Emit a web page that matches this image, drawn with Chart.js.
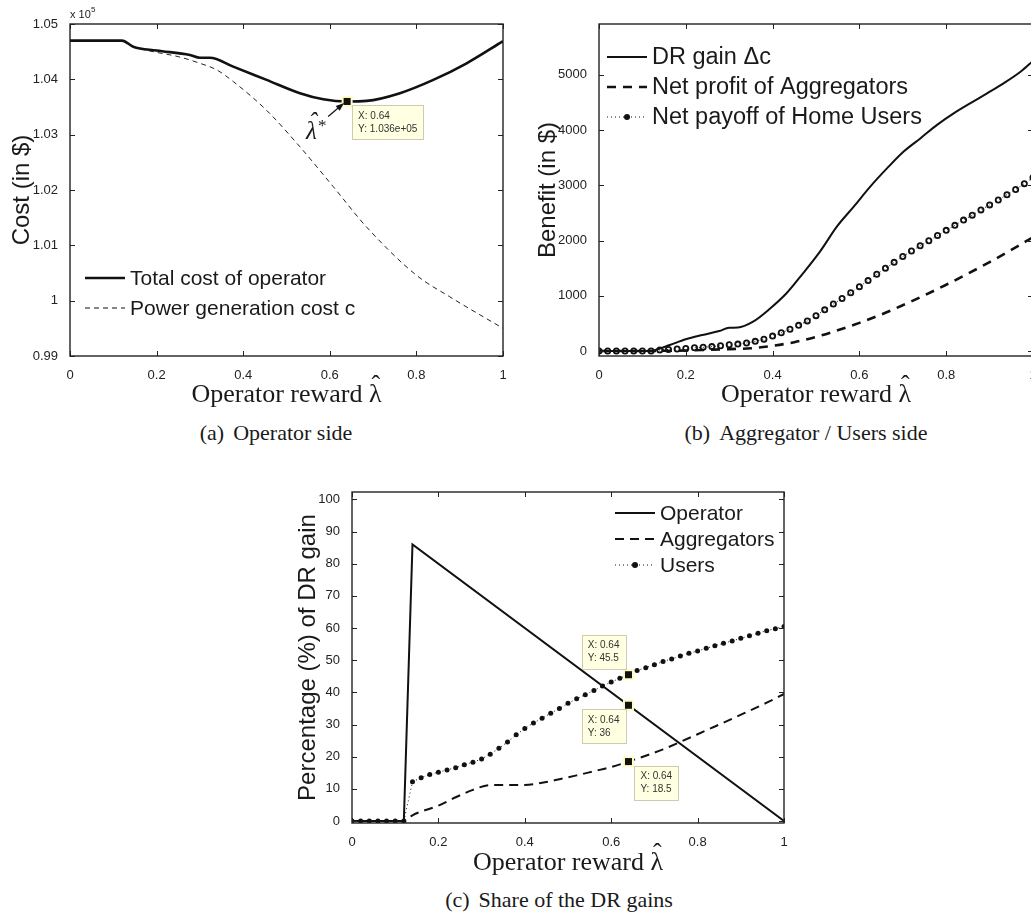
<!DOCTYPE html>
<html>
<head>
<meta charset="utf-8">
<script src="https://cdn.jsdelivr.net/npm/chart.js@4.4.0/dist/chart.umd.min.js"></script>
<style>
  html, body { margin: 0; padding: 0; background: #fff; overflow: hidden; width: 1031px; height: 918px; }
  .box { position: absolute; }
  .cap { position: absolute; font-family: "Liberation Serif", serif; font-size: 22px; color: #1a1a1a;
         white-space: nowrap; transform: translate(-50%, -50%); }
  .cap span { margin-right: 9px; }
</style>
</head>
<body>
<div class="box" style="left:0;top:0"><canvas id="chartA" width="520" height="410"></canvas></div>
<div class="box" style="left:520px;top:0"><canvas id="chartB" width="530" height="410"></canvas></div>
<div class="box" style="left:260px;top:470px"><canvas id="chartC" width="540" height="410"></canvas></div>
<div class="cap" style="left:276px;top:433px"><span>(a)</span>Operator side</div>
<div class="cap" style="left:806px;top:433px"><span>(b)</span>Aggregator / Users side</div>
<div class="cap" style="left:559px;top:900px"><span>(c)</span>Share of the DR gains</div>
<script>
// x ticks shared by the three plots
const xTicks = [0, 0.2, 0.4, 0.6, 0.8, 1];
const xTickLabels = ['0', '0.2', '0.4', '0.6', '0.8', '1'];
const xTitleText = 'Operator reward ';
const lambdaSym = '\u03BB';

// operator reward grid used for the marker series
const lambdaGrid = [0, 0.02, 0.04, 0.06, 0.08, 0.10, 0.12, 0.14, 0.16, 0.18, 0.20, 0.22, 0.24, 0.26, 0.28,
  0.30, 0.32, 0.34, 0.36, 0.38, 0.40, 0.42, 0.44, 0.46, 0.48, 0.50, 0.52, 0.54, 0.56, 0.58, 0.60, 0.62,
  0.64, 0.66, 0.68, 0.70, 0.72, 0.74, 0.76, 0.78, 0.80, 0.82, 0.84, 0.86, 0.88, 0.90, 0.92, 0.94, 0.96,
  0.98, 1.00];

// (a) operator side, cost in units of 1e5 $
const totalCostX = [0, 0.12, 0.146, 0.2, 0.277, 0.3, 0.323, 0.377, 0.454, 0.531, 0.585, 0.64, 0.685, 0.762, 0.839, 0.916, 1];
const totalCostY = [1.047, 1.047, 1.0459, 1.0452, 1.0444, 1.0439, 1.0439, 1.0423, 1.0399, 1.0375, 1.0364, 1.0360, 1.0361, 1.0375, 1.0399, 1.0429, 1.0469];
const genCostX = [0, 0.12, 0.146, 0.192, 0.25, 0.3, 0.339, 0.377, 0.454, 0.531, 0.608, 0.685, 0.8, 0.877, 1];
const genCostY = [1.047, 1.047, 1.0459, 1.0450, 1.0441, 1.0429, 1.0417, 1.0396, 1.0344, 1.0278, 1.0206, 1.0133, 1.0046, 1.0007, 0.9950];
const yTicksA = [0.99, 1, 1.01, 1.02, 1.03, 1.04, 1.05];
const yTickLabelsA = ['0.99', '1', '1.01', '1.02', '1.03', '1.04', '1.05'];

// (b) aggregator / users side, benefit in $
const drGainX = [0, 0.12, 0.13, 0.163, 0.2, 0.238, 0.277, 0.3, 0.32, 0.355, 0.393, 0.432, 0.47, 0.51, 0.548, 0.587, 0.625, 0.664, 0.702, 0.741, 0.779, 0.818, 0.856, 0.895, 0.933, 0.972, 1];
const drGainY = [0, 0, 20, 109, 212, 290, 362, 422, 425, 531, 760, 1045, 1407, 1810, 2252, 2614, 2976, 3310, 3611, 3853, 4094, 4306, 4487, 4668, 4850, 5060, 5250];
const aggProfitX = [0, 0.12, 0.14, 0.2, 0.25, 0.3, 0.35, 0.4, 0.45, 0.5, 0.55, 0.6, 0.65, 0.7, 0.75, 0.8, 0.85, 0.9, 0.95, 1];
const aggProfitY = [0, 0, 3, 10, 22, 35, 50, 95, 160, 255, 375, 510, 660, 830, 1010, 1200, 1400, 1610, 1830, 2060];
const usersPayoff = [0, 0, 0, 0, 0, 0, 0, 20, 28, 38, 48, 58, 68, 80, 95, 115, 125, 145, 175, 215, 270,
  330, 395, 465, 545, 640, 745, 850, 950, 1055, 1165, 1275, 1390, 1500, 1605, 1710, 1810, 1905, 1995,
  2090, 2185, 2275, 2370, 2460, 2555, 2645, 2735, 2830, 2925, 3030, 3140];
const yTicksB = [0, 1000, 2000, 3000, 4000, 5000];

// (c) share of the DR gain in %
const opShareX = [0, 0.12, 0.14, 1];
const opShareY = [0, 0, 86, 0];
const aggShareX = [0, 0.12, 0.14, 0.2, 0.24, 0.28, 0.32, 0.36, 0.4, 0.44, 0.48, 0.52, 0.56, 0.6, 0.64, 0.68, 0.72, 0.76, 0.8, 0.84, 0.88, 0.92, 0.96, 1];
const aggShareY = [0, 0, 1.8, 4.8, 7.4, 9.7, 11.2, 11.2, 11.2, 11.9, 13, 14.2, 15.5, 16.8, 18.5, 20.3, 22.3, 24.6, 27, 29.4, 31.8, 34.3, 36.8, 39.5];
const usersShare = [0, 0, 0, 0, 0, 0, 0, 12.2, 13.5, 14.5, 15.2, 15.9, 16.6, 17.5, 18.3, 19.3, 20.8,
  22.6, 24.6, 26.8, 28.8, 30.5, 32.0, 33.5, 35.0, 36.6, 38.0, 39.3, 40.6, 42.0, 43.2, 44.4, 45.5, 46.8,
  47.7, 48.6, 49.6, 50.4, 51.3, 52.2, 52.9, 53.7, 54.5, 55.3, 56.0, 56.8, 57.6, 58.4, 59.2, 59.8, 60.5];
const yTicksC = [0, 10, 20, 30, 40, 50, 60, 70, 80, 90, 100];

const pts = (xs, ys) => xs.map((x, i) => ({ x: x, y: ys[i] }));

const INK = '#111';
const tickFont = { family: 'Liberation Sans', size: 13 };

// lambda with a hat drawn on top (the combining accent renders badly on canvas)
function drawLambdaHat(ctx, x, baseline, size, italic) {
  ctx.font = (italic ? 'italic ' : '') + size + 'px "Liberation Serif"';
  ctx.textAlign = 'left';
  ctx.textBaseline = 'alphabetic';
  const w = ctx.measureText(lambdaSym).width;
  ctx.fillText(lambdaSym, x, baseline);
  ctx.textAlign = 'center';
  ctx.fillText('\u02C6', x + w / 2 + (italic ? 1.5 : 0.5), baseline - size * 0.36);
  ctx.textAlign = 'left';
  return w;
}

// MATLAB style box with inner ticks, hand drawn legend and data tips
const matFrame = {
  id: 'matFrame',
  afterDatasetsDraw(chart, args, opts) {
    const { ctx, chartArea: a, scales: { x, y } } = chart;
    ctx.save();
    ctx.strokeStyle = '#222';
    ctx.lineWidth = 1.4;
    ctx.strokeRect(a.left, a.top, a.right - a.left, a.bottom - a.top);
    ctx.lineWidth = 1;
    ctx.beginPath();
    x.ticks.forEach(tk => {
      const p = Math.round(x.getPixelForValue(tk.value)) + 0.5;
      ctx.moveTo(p, a.bottom); ctx.lineTo(p, a.bottom - 5);
      ctx.moveTo(p, a.top); ctx.lineTo(p, a.top + 5);
    });
    y.ticks.forEach(tk => {
      const p = Math.round(y.getPixelForValue(tk.value)) + 0.5;
      ctx.moveTo(a.left, p); ctx.lineTo(a.left + 5, p);
      ctx.moveTo(a.right, p); ctx.lineTo(a.right - 5, p);
    });
    ctx.stroke();

    // x axis title with hatted lambda
    ctx.fillStyle = '#1a1a1a';
    ctx.font = '26px "Liberation Serif"';
    const w1 = ctx.measureText(xTitleText).width;
    const wl = ctx.measureText(lambdaSym).width;
    const x0 = (a.left + a.right) / 2 - (w1 + wl) / 2;
    const bl = a.bottom + opts.titleBaseline;
    ctx.textAlign = 'left';
    ctx.textBaseline = 'alphabetic';
    ctx.fillText(xTitleText, x0, bl);
    drawLambdaHat(ctx, x0 + w1, bl, 26, false);

    // legend
    const lg = opts.legend;
    lg.items.forEach((it, i) => {
      const yy = lg.y + i * lg.gap;
      ctx.strokeStyle = INK;
      ctx.lineWidth = it.width;
      ctx.setLineDash(it.dash || []);
      ctx.beginPath();
      ctx.moveTo(lg.x, yy); ctx.lineTo(lg.x + 40, yy);
      ctx.stroke();
      ctx.setLineDash([]);
      if (it.marker) {
        ctx.fillStyle = INK;
        ctx.beginPath();
        ctx.arc(lg.x + 20, yy, 3, 0, Math.PI * 2);
        ctx.fill();
      }
      ctx.fillStyle = '#1a1a1a';
      ctx.font = lg.size + 'px "Liberation Sans"';
      ctx.textBaseline = 'middle';
      ctx.textAlign = 'left';
      ctx.fillText(it.label, lg.x + 45, yy + 1);
    });

    // data tips
    (opts.tips || []).forEach(t => {
      const px = x.getPixelForValue(t.x), py = y.getPixelForValue(t.y);
      ctx.fillStyle = '#fffbc4';
      ctx.fillRect(px - 5.5, py - 5.5, 11, 11);
      ctx.fillStyle = '#111';
      ctx.fillRect(px - 3.5, py - 3.5, 7, 7);
      ctx.font = '10px "Liberation Sans"';
      const w = Math.max(...t.lines.map(s => ctx.measureText(s).width)) + 12;
      const bx = t.dx < 0 ? px + t.dx - w : px + t.dx, by = py + t.dy;
      ctx.fillStyle = '#ffffe1';
      ctx.fillRect(bx, by, w, 34);
      ctx.strokeStyle = '#cfcab0';
      ctx.lineWidth = 1;
      ctx.strokeRect(Math.round(bx) + 0.5, Math.round(by) + 0.5, Math.round(w), 34);
      ctx.fillStyle = '#333';
      ctx.textBaseline = 'middle';
      ctx.textAlign = 'left';
      t.lines.forEach((s, i) => ctx.fillText(s, bx + 6, by + 11 + i * 13));
    });

    if (opts.extra) opts.extra(chart);
    ctx.restore();
  }
};

function xScale(height) {
  return {
    type: 'linear', min: 0, max: 1,
    grid: { display: false }, border: { display: false },
    afterBuildTicks: s => { s.ticks = xTicks.map(v => ({ value: v })); },
    afterFit: s => { s.height = height; },
    ticks: { font: tickFont, color: '#222', padding: 4, maxRotation: 0, autoSkip: false,
             callback: (v, i) => xTickLabels[i] }
  };
}

function yScale(min, max, tickVals, labels, title, titlePad, width) {
  return {
    min: min, max: max,
    grid: { display: false }, border: { display: false },
    afterBuildTicks: s => { s.ticks = tickVals.map(v => ({ value: v })); },
    afterFit: s => { s.width = width; },
    ticks: { font: tickFont, color: '#222', padding: 4, autoSkip: false,
             callback: (v, i) => labels ? labels[i] : String(tickVals[i]) },
    title: { display: true, text: title, color: '#1a1a1a',
             font: { family: 'Liberation Sans', size: 24, lineHeight: 1 },
             padding: { top: titlePad, bottom: 0 } }
  };
}

const baseOpts = {
  responsive: false, animation: false, events: [],
  plugins: { legend: { display: false }, tooltip: { enabled: false } }
};

// (a) Operator side
new Chart(document.getElementById('chartA'), {
  type: 'line',
  data: {
    datasets: [
      { data: pts(totalCostX, totalCostY), borderColor: INK, borderWidth: 2.6, pointRadius: 0,
        cubicInterpolationMode: 'monotone' },
      { data: pts(genCostX, genCostY), borderColor: '#222', borderWidth: 1, borderDash: [5, 4],
        pointRadius: 0, cubicInterpolationMode: 'monotone' }
    ]
  },
  options: Object.assign({}, baseOpts, {
    layout: { padding: { left: 0, top: 24, right: 17, bottom: 0 } },
    scales: {
      x: xScale(54),
      y: yScale(0.99, 1.05, yTicksA, yTickLabelsA, 'Cost (in $)', 10, 70)
    },
    plugins: Object.assign({}, baseOpts.plugins, {
      matFrame: {
        titleBaseline: 46,
        legend: { x: 85, y: 278, gap: 30, size: 21, items: [
          { label: 'Total cost of operator', width: 2.6 },
          { label: 'Power generation cost c', width: 1, dash: [5, 4] }
        ] },
        tips: [{ x: 0.64, y: 1.036, lines: ['X: 0.64', 'Y: 1.036e+05'], dx: 5, dy: 4 }],
        extra: chart => {
          const { ctx, scales: { x, y }, chartArea: a } = chart;
          const px = x.getPixelForValue(0.64), py = y.getPixelForValue(1.036);
          // arrow towards the optimum
          ctx.strokeStyle = INK; ctx.fillStyle = INK; ctx.lineWidth = 1.2;
          ctx.beginPath(); ctx.moveTo(px - 19, py + 15); ctx.lineTo(px - 6, py + 4); ctx.stroke();
          const ang = Math.atan2(-11, 13);
          ctx.beginPath();
          ctx.moveTo(px - 3, py + 1.5);
          ctx.lineTo(px - 3 - 9 * Math.cos(ang - 0.35), py + 1.5 - 9 * Math.sin(ang - 0.35));
          ctx.lineTo(px - 3 - 9 * Math.cos(ang + 0.35), py + 1.5 - 9 * Math.sin(ang + 0.35));
          ctx.closePath(); ctx.fill();
          ctx.fillStyle = '#1a1a1a';
          const lw = drawLambdaHat(ctx, px - 41, py + 38, 25, true);
          ctx.font = '17px "Liberation Serif"';
          ctx.fillText('*', px - 41 + lw + 1, py + 30);
          // exponent label
          ctx.font = '11px "Liberation Sans"';
          ctx.fillStyle = '#222';
          ctx.textBaseline = 'alphabetic';
          ctx.fillText('x 10', a.left, a.top - 6);
          ctx.font = '8px "Liberation Sans"';
          ctx.fillText('5', a.left + 21, a.top - 12);
        }
      }
    })
  }),
  plugins: [matFrame]
});

// (b) Aggregator / Users side
new Chart(document.getElementById('chartB'), {
  type: 'line',
  data: {
    datasets: [
      { data: pts(drGainX, drGainY), borderColor: INK, borderWidth: 2, pointRadius: 0,
        cubicInterpolationMode: 'monotone' },
      { data: pts(aggProfitX, aggProfitY), borderColor: INK, borderWidth: 2.6, borderDash: [9, 7],
        pointRadius: 0, cubicInterpolationMode: 'monotone' },
      { data: pts(lambdaGrid, usersPayoff), borderColor: INK, borderWidth: 1, borderDash: [1, 3],
        pointRadius: 2.6, pointBorderWidth: 1.8, pointBorderColor: INK,
        pointBackgroundColor: 'rgba(0,0,0,0)' }
    ]
  },
  options: Object.assign({}, baseOpts, {
    layout: { padding: { left: 0, top: 24, right: 17, bottom: 0 } },
    scales: {
      x: xScale(54),
      y: yScale(-90, 5920, yTicksB, null, 'Benefit (in $)', 16, 79)
    },
    plugins: Object.assign({}, baseOpts.plugins, {
      matFrame: {
        titleBaseline: 46,
        legend: { x: 87, y: 57, gap: 30, size: 23.5, items: [
          { label: 'DR gain \u0394c', width: 2 },
          { label: 'Net profit of Aggregators', width: 2.6, dash: [9, 7] },
          { label: 'Net payoff of Home Users', width: 1, dash: [1, 3], marker: true }
        ] }
      }
    })
  }),
  plugins: [matFrame]
});

// (c) Share of the DR gains
new Chart(document.getElementById('chartC'), {
  type: 'line',
  data: {
    datasets: [
      { data: pts(opShareX, opShareY), borderColor: INK, borderWidth: 2, pointRadius: 0, tension: 0 },
      { data: pts(aggShareX, aggShareY), borderColor: INK, borderWidth: 2, borderDash: [9, 6],
        pointRadius: 0, cubicInterpolationMode: 'monotone' },
      { data: pts(lambdaGrid, usersShare), borderColor: INK, borderWidth: 1, borderDash: [1, 3],
        pointRadius: 2.5, pointBorderWidth: 0, pointBackgroundColor: INK, tension: 0 }
    ]
  },
  options: Object.assign({}, baseOpts, {
    layout: { padding: { left: 0, top: 22, right: 16, bottom: 0 } },
    scales: {
      x: xScale(57),
      y: yScale(-0.6, 102.3, yTicksC, null, 'Percentage (%) of DR gain', 36, 92)
    },
    plugins: Object.assign({}, baseOpts.plugins, {
      matFrame: {
        titleBaseline: 47,
        legend: { x: 355, y: 43, gap: 26, size: 21, items: [
          { label: 'Operator', width: 2 },
          { label: 'Aggregators', width: 2, dash: [9, 6] },
          { label: 'Users', width: 1, dash: [1, 3], marker: true }
        ] },
        tips: [
          { x: 0.64, y: 45.5, lines: ['X: 0.64', 'Y: 45.5'], dx: -3, dy: -40 },
          { x: 0.64, y: 36, lines: ['X: 0.64', 'Y: 36'], dx: -3, dy: 4 },
          { x: 0.64, y: 18.5, lines: ['X: 0.64', 'Y: 18.5'], dx: 6, dy: 4 }
        ]
      }
    })
  }),
  plugins: [matFrame]
});
</script>
</body>
</html>
